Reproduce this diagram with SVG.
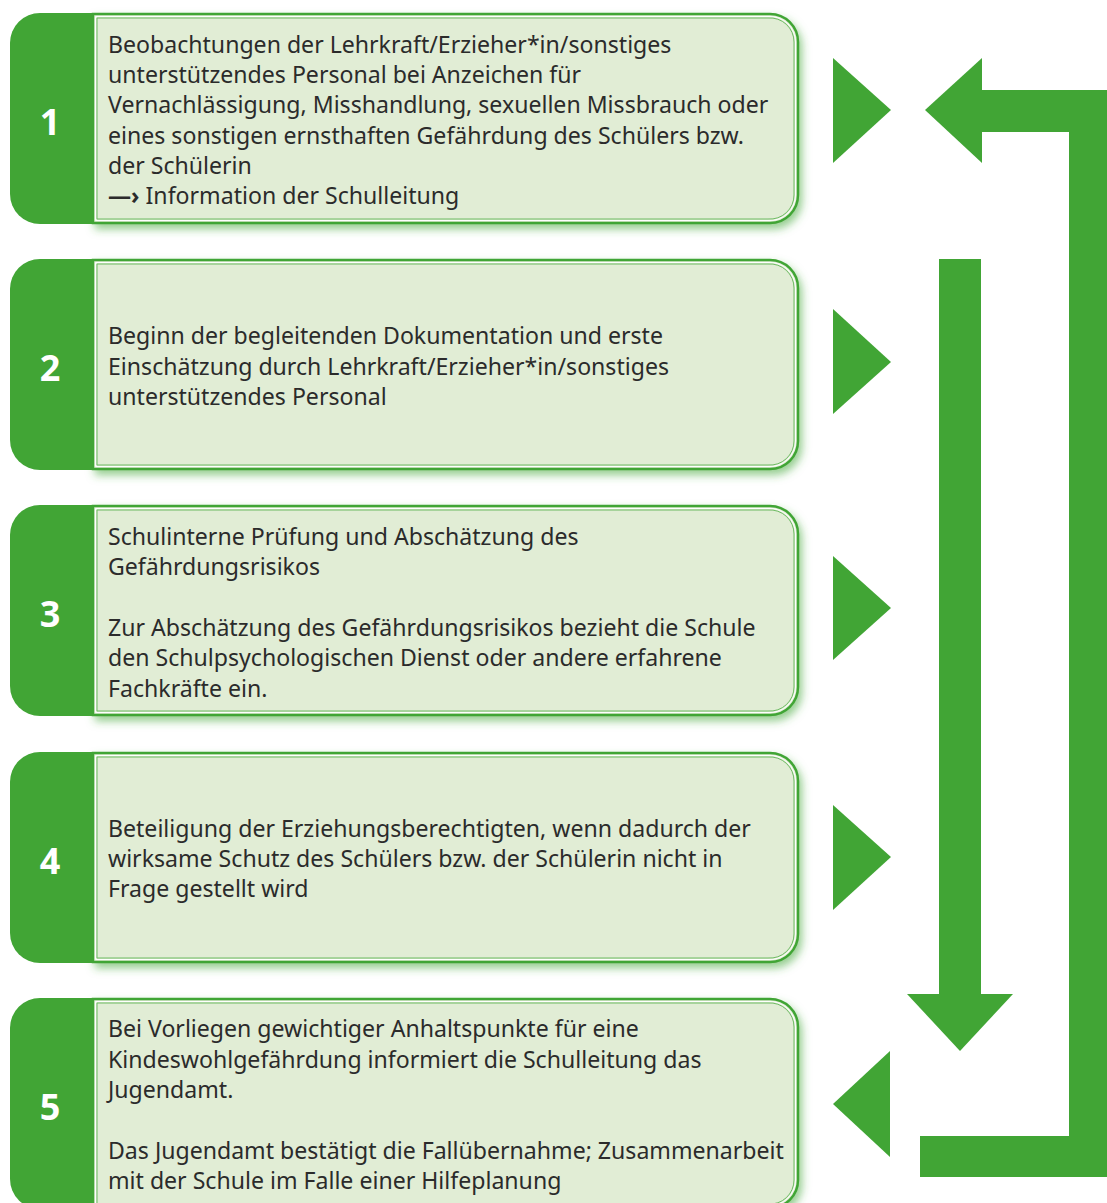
<svg xmlns="http://www.w3.org/2000/svg" xmlns:xlink="http://www.w3.org/1999/xlink" width="1107" height="1203" viewBox="0 0 1107 1203">
<style>
.txt{font-family:"Noto Sans","DejaVu Sans",sans-serif;font-size:23.1px;fill:#2b2b2b}
.num{font-family:"Noto Sans","DejaVu Sans",sans-serif;font-size:36px;font-weight:bold;fill:#ffffff;text-anchor:middle}
.g{fill:#41a535}
</style>
<defs>
<filter id="sh" x="-5%" y="-10%" width="115%" height="130%">
<feDropShadow dx="3" dy="5" stdDeviation="4" flood-color="#41a535" flood-opacity="0.55"/>
</filter>
<g id="box">
<path d="M93,1 H770 A28,28 0 0 1 798,29 V182 A28,28 0 0 1 770,210 H93 Z" fill="#e1edd5" stroke="#41a535" stroke-width="2.5" filter="url(#sh)"/>
<path d="M95.5,3.5 H769 A25.5,25.5 0 0 1 795.5,29 V182 A25.5,25.5 0 0 1 769,207.5 H95.5 Z" fill="none" stroke="#ffffff" stroke-width="1"/>
<path d="M97,5 H768 A24,24 0 0 1 794,29 V182 A24,24 0 0 1 768,206 H97 Z" fill="none" stroke="#6dba62" stroke-width="1"/>
<path class="g" d="M40,0 H94 V211 H40 A30,30 0 0 1 10,181 V30 A30,30 0 0 1 40,0 Z"/>
</g>
</defs>

<g id="node1">
<use href="#box" transform="translate(0,13)"/>
<text class="num" x="50" y="135">1</text>
<text class="txt">
<tspan x="108" y="53">Beobachtungen der Lehrkraft/Erzieher*in/sonstiges</tspan>
<tspan x="108" y="83">unterstützendes Personal bei Anzeichen für</tspan>
<tspan x="108" y="113">Vernachlässigung, Misshandlung, sexuellen Missbrauch oder</tspan>
<tspan x="108" y="144">eines sonstigen ernsthaften Gefährdung des Schülers bzw.</tspan>
<tspan x="108" y="174">der Schülerin</tspan>
<tspan x="108" y="204"><tspan font-weight="bold">—›</tspan> Information der Schulleitung</tspan>
</text>
</g>

<g id="node2">
<use href="#box" transform="translate(0,259)"/>
<text class="num" x="50" y="381">2</text>
<text class="txt">
<tspan x="108" y="344">Beginn der begleitenden Dokumentation und erste</tspan>
<tspan x="108" y="375">Einschätzung durch Lehrkraft/Erzieher*in/sonstiges</tspan>
<tspan x="108" y="405">unterstützendes Personal</tspan>
</text>
</g>

<g id="node3">
<use href="#box" transform="translate(0,505)"/>
<text class="num" x="50" y="627">3</text>
<text class="txt">
<tspan x="108" y="545">Schulinterne Prüfung und Abschätzung des</tspan>
<tspan x="108" y="575">Gefährdungsrisikos</tspan>
<tspan x="108" y="636">Zur Abschätzung des Gefährdungsrisikos bezieht die Schule</tspan>
<tspan x="108" y="666">den Schulpsychologischen Dienst oder andere erfahrene</tspan>
<tspan x="108" y="697">Fachkräfte ein.</tspan>
</text>
</g>

<g id="node4">
<use href="#box" transform="translate(0,752)"/>
<text class="num" x="50" y="874">4</text>
<text class="txt">
<tspan x="108" y="837">Beteiligung der Erziehungsberechtigten, wenn dadurch der</tspan>
<tspan x="108" y="867">wirksame Schutz des Schülers bzw. der Schülerin nicht in</tspan>
<tspan x="108" y="897">Frage gestellt wird</tspan>
</text>
</g>

<g id="node5">
<use href="#box" transform="translate(0,998)"/>
<text class="num" x="50" y="1120">5</text>
<text class="txt">
<tspan x="108" y="1037">Bei Vorliegen gewichtiger Anhaltspunkte für eine</tspan>
<tspan x="108" y="1068">Kindeswohlgefährdung informiert die Schulleitung das</tspan>
<tspan x="108" y="1098">Jugendamt.</tspan>
<tspan x="108" y="1159">Das Jugendamt bestätigt die Fallübernahme; Zusammenarbeit</tspan>
<tspan x="108" y="1189">mit der Schule im Falle einer Hilfeplanung</tspan>
</text>
</g>

<g id="connectors">
<polygon class="g" points="833,58 891,110 833,163"/>
<polygon class="g" points="833,309 891,362 833,414"/>
<polygon class="g" points="833,556 891,608 833,660"/>
<polygon class="g" points="833,805 891,857 833,910"/>
<polygon class="g" points="890,1051 833,1104 890,1157"/>
<rect class="g" x="939" y="259" width="42" height="736"/>
<polygon class="g" points="907,994 1013,994 960,1051"/>
<polygon class="g" points="925,110 982,58 982,163"/>
<path class="g" d="M981,90 H1107 V1177 H920 V1136 H1069 V132 H981 Z"/>
</g>
</svg>
